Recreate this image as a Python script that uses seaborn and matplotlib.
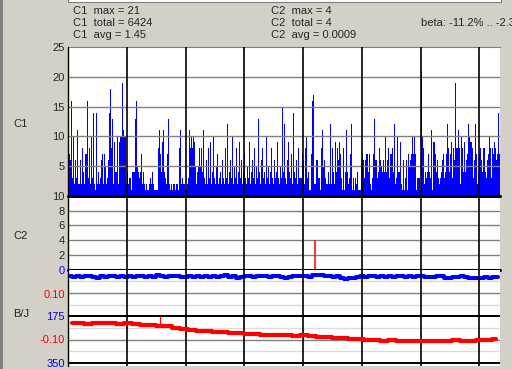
import seaborn as sns
import matplotlib.pyplot as plt
import matplotlib.patches as mpatches
import numpy as np

# --- data (one value per screen pixel column) ---
# C1 counts, x 68..200 / 200..300 / 300..500
c1_left = [7, 7, 6, 16, 3, 10, 2, 6, 3, 11,
           2, 2, 6, 2, 8, 4, 2, 7, 7, 16,
           3, 8, 2, 10, 3, 14, 2, 1, 14, 2,
           4, 2, 3, 6, 7, 2, 7, 5, 2, 3,
           6, 14, 18, 8, 13, 2, 9, 4, 4, 10,
           2, 9, 10, 10, 19, 11, 10, 10, 2,
           4, 2, 3, 3, 1, 4, 4, 4, 13, 16,
           5, 4, 3, 4, 7, 2, 4, 2, 1, 2,
           1, 1, 2, 3, 2, 4, 2, 1, 1, 1,
           1, 8, 11, 7, 4, 9, 11, 4, 3, 2,
           7, 13, 2, 1, 2, 1, 2, 2, 1, 2,
           2, 1, 8, 11, 2, 3, 2, 2, 1, 1,
           2, 3, 11, 8, 10, 8, 10, 9, 5, 2,
           4, 5, 8]
c1_mid = [5, 8, 4, 11, 3, 2, 6, 2, 8, 3,
          9, 2, 4, 10, 3, 2, 5, 7, 2, 3,
          4, 2, 6, 3, 2, 8, 3, 12, 2, 4,
          6, 3, 10, 2, 5, 3, 8, 2, 4, 9,
          3, 6, 2, 4, 7, 3, 2, 5, 3, 9,
          2, 4, 6, 3, 8, 2, 5, 3, 13, 4,
          2, 6, 8, 3, 4, 2, 10, 3, 5, 2,
          4, 8, 3, 2, 6, 3, 4, 9, 3, 2,
          5, 3, 15, 4, 12, 3, 2, 6, 9, 4,
          3, 7, 2, 14, 4, 3, 6, 2, 8, 3]
c1_right = [3, 3, 7, 6, 2, 8, 10, 3, 4, 1, 1, 7, 16, 17, 2, 2, 6, 6, 3, 3,
            1, 8, 11, 5, 6, 3, 2, 2, 4, 2, 12, 2, 8, 4, 2, 9, 4, 8, 6, 9,
            7, 3, 1, 8, 1, 4, 11, 4, 2, 3, 7, 12, 1, 3, 1, 3, 2, 4, 1, 1, 1,
            6, 7, 6, 3, 6, 7, 7, 4, 7, 2, 1, 3, 7, 13, 6, 6, 3, 4, 8, 6,
            5, 4, 6, 4, 10, 4, 6, 8, 3, 7, 7, 8, 4, 12, 2, 3, 10, 4, 4, 9,
            2, 1, 6, 1, 3, 6, 1, 7, 5, 6, 7, 10, 7, 10, 7, 1, 3, 3, 3, 1, 21,
            10, 8, 2, 4, 3, 4, 7, 4, 3, 11, 1, 9, 9, 7, 4, 6, 3, 2, 3, 4,
            6, 7, 3, 4, 7, 12, 8, 4, 7, 9, 3, 8, 6, 19, 8, 8, 11, 8, 2, 10,
            8, 4, 9, 4, 6, 7, 12, 10, 9, 9, 8, 3, 6, 12, 7, 2, 4, 7, 8, 6,
            4, 8, 8, 4, 3, 6, 7, 10, 8, 3, 8, 7, 9, 8, 6, 7, 14, 7]

# C2 events (column, count)
c2_cols = [246.5]
c2_vals = [4]

# blue trace (every 4 px), scale 0..350 downward
blue_vals = [26, 27, 24, 28, 26, 23, 27, 32, 26, 29, 24, 25, 29, 26, 28, 23, 27,
             26, 25, 29, 24, 27, 22, 26, 29, 26, 25, 23, 27, 28, 25, 27, 24,
             29, 26, 28, 24, 27, 25, 22, 27, 26, 30, 27, 24, 25, 29, 26, 23,
             26, 28, 24, 25, 27, 30, 27, 24, 25,
             26, 25, 27, 22, 20, 21, 24, 26, 29, 26, 32, 34, 30, 33, 28, 26,
             27, 24, 25, 29, 26, 27, 23, 28, 26, 25, 29, 26, 27, 24, 25, 27,
             28, 27, 24, 25, 30, 31, 29, 27, 24, 27, 31, 33, 30, 32, 28, 30,
             27, 29]

# B/J trace (every 8 px)
bj_vals = [-0.031, -0.028, -0.032, -0.029, -0.031, -0.027, -0.033, -0.031,
           -0.034, -0.036, -0.037, -0.040, -0.044, -0.051, -0.055, -0.060,
           -0.064, -0.066, -0.070, -0.071, -0.072, -0.074, -0.076, -0.077,
           -0.080, -0.081, -0.083, -0.084, -0.085, -0.080, -0.087, -0.089,
           -0.091, -0.095, -0.097, -0.100, -0.102, -0.104, -0.103, -0.107,
           -0.106, -0.109, -0.110, -0.108, -0.111, -0.109, -0.107, -0.110,
           -0.106, -0.109, -0.107, -0.105, -0.104, -0.102]
bj_spike_cols = [92]
bj_spike_top = [0.002]

stats_c1 = ["C1  max = 21", "C1  total = 6424", "C1  avg = 1.45"]
stats_c2 = ["C2  max = 4", "C2  total = 4", "C2  avg = 0.0009"]
beta_text = "beta: -11.2% .. -2.3%"

W, H = 512, 369
BG = "#D4D0C8"
BLUE = "#0000FF"
RED = "#FF0000"
GRID = "#808080"
LIGHT = "#DCDCDC"
FS = 8


def box(x0, y0, x1, y1):
    # pixel box with top-left origin -> figure fraction rect
    return [x0 / W, 1 - y1 / H, (x1 - x0) / W, (y1 - y0) / H]


def bare(ax):
    for s in ax.spines.values():
        s.set_visible(False)
    ax.set_xlim(0, 432)
    ax.set_xticks([])
    ax.set_xlabel("")
    ax.set_ylabel("")
    ax.tick_params(axis="y", length=0, pad=2.2, labelsize=FS)


sns.set_style("white")
plt.rcParams["font.family"] = ["Liberation Sans", "DejaVu Sans"]

fig = plt.figure(figsize=(W / 100, H / 100), dpi=100, facecolor=BG)

c1 = np.array(c1_left + c1_mid + c1_right)
cols = np.arange(len(c1)) + 0.5
hour_marks = 59 + 58.7 * np.arange(7)

# C1 panel: one bar per pixel column
ax1 = fig.add_axes(box(68, 47, 500, 196))
sns.barplot(x=cols, y=c1, native_scale=True, width=1, color=BLUE,
            saturation=1, linewidth=0, errorbar=None, ax=ax1)
for p in ax1.patches:
    p.set_antialiased(False)
bare(ax1)
ax1.set_ylim(0, 25)
ax1.set_yticks([5, 10, 15, 20, 25])
ax1.set_yticklabels(["5", "10", "15", "20", "25"])
for v in [5, 10, 15, 20]:
    ax1.axhline(v, color=GRID, lw=1.0, zorder=3)
ax1.axhline(25, color=GRID, lw=0.8, zorder=3, clip_on=False)

# C2 panel
ax2 = fig.add_axes(box(68, 196, 500, 269.5))
bare(ax2)
ax2.set_ylim(0, 10)
ax2.set_yticks([2, 4, 6, 8, 10])
ax2.set_yticklabels(["2", "4", "6", "8", "10"])
for v in [2, 4, 6, 8]:
    ax2.axhline(v, color=GRID, lw=1.0, zorder=1)
ax2.vlines(c2_cols, 0, c2_vals, color=RED, lw=1.1, zorder=2)

# lower panel: blue trace (0..350) and B/J (red)
ax3 = fig.add_axes(box(68, 269.5, 500, 366))
bare(ax3)
ax3.set_ylim(361, 0)
for k in range(1, 9):
    v = 43.75 * k
    if k in (4, 8):
        continue
    ax3.axhline(v, color=GRID if k in (2, 6) else LIGHT, lw=1.0, zorder=1)
ax3.axhline(175, color="black", lw=1.4, zorder=2)
ax3.axhline(350, color="black", lw=1.4, zorder=2)
blue_x = 2 + 4 * np.arange(len(blue_vals))
sns.lineplot(x=blue_x, y=blue_vals, color=BLUE, lw=2.9, drawstyle="steps-mid",
             estimator=None, ax=ax3, zorder=3)
ax3.set_xlim(0, 432)
ax3.set_xlabel("")
ax3.set_ylabel("")
ax3.set_yticks([0, 175, 350])
ax3.set_yticklabels(["0", "175", "350"])
for t in ax3.get_yticklabels():
    t.set_color(BLUE)

ax4 = fig.add_axes(box(68, 269.5, 500, 366), frameon=False)
ax4.patch.set_visible(False)
bj_x = 4 + 8 * np.arange(len(bj_vals))
sns.lineplot(x=bj_x, y=bj_vals, color=RED, lw=3.0, drawstyle="steps-mid",
             estimator=None, ax=ax4, zorder=3)
bare(ax4)
ax4.set_ylim(-0.22, 0.2089)
base = np.interp(bj_spike_cols, bj_x, bj_vals)
ax4.vlines(bj_spike_cols, base, bj_spike_top, color=RED, lw=0.9)
ax4.set_yticks([0.10, -0.10])
ax4.set_yticklabels(["0.10", "-0.10"])
for t in ax4.get_yticklabels():
    t.set_color(RED)

# heavy separators, time marks, left edge
ax2.axhline(10, color="black", lw=2.2, zorder=5, clip_on=False)
ax2.axhline(0, color="black", lw=2.2, zorder=5, clip_on=False)
for ax in (ax1, ax2, ax3):
    for m in hour_marks:
        ax.axvline(m, color="black", lw=1.2, zorder=4)
    ax.axvline(0, color="black", lw=1.0, zorder=4, clip_on=False)

# panel names
fig.text(13 / W, 1 - 127 / H, "C1", fontsize=FS)
fig.text(13 / W, 1 - 239 / H, "C2", fontsize=FS)
fig.text(13 / W, 1 - 317 / H, "B/J", fontsize=FS)

# statistics
for i, (a, b) in enumerate(zip(stats_c1, stats_c2)):
    yb = 1 - (13.5 + 12.5 * i) / H
    fig.text(73 / W, yb, a, fontsize=FS, va="baseline")
    fig.text(271 / W, yb, b, fontsize=FS, va="baseline")
fig.text(421 / W, 1 - 26 / H, beta_text, fontsize=FS, va="baseline")

# window chrome
fig.patches.append(mpatches.Rectangle((68 / W, 1 - 2 / H), 433 / W, 4 / H,
                                      transform=fig.transFigure, facecolor="white",
                                      edgecolor=GRID, lw=0.8))
fig.patches.append(mpatches.Rectangle((0, 0), 2.5 / W, 1, transform=fig.transFigure,
                                      facecolor="#808080", edgecolor="none"))

fig.savefig("out.png", dpi=100, facecolor=BG)
